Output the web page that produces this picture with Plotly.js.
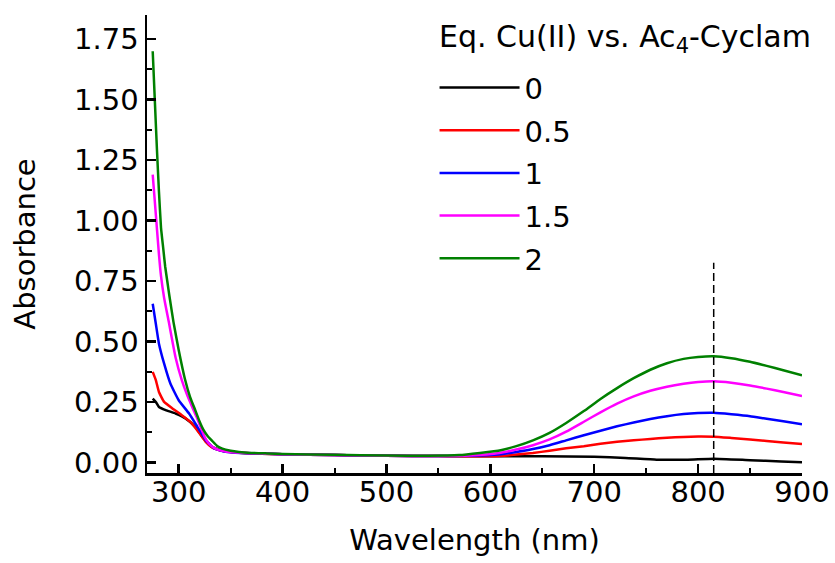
<!DOCTYPE html>
<html>
<head>
<meta charset="utf-8">
<script src="https://cdn.plot.ly/plotly-3.0.1.min.js"></script>
<style>html,body{margin:0;padding:0;background:#fff;}</style>
</head>
<body>
<div id="chart" style="width:835px;height:563px;"></div>
<script>
// Series labels (equivalents of Cu(II) vs. Ac4-Cyclam)
const seriesNames = ["0", "0.5", "1", "1.5", "2"];
const seriesColors = ["#000000", "#ff0000", "#0000ff", "#ff00ff", "#008000"];

// 0 eq
const wl0 = [275,278,281,287.5,297,306.5,316,324,332,342,355,380,400,450,500,550,600,650,700,730,760,790,815,850,880,900];
const ab0 = [0.264,0.250,0.229,0.216,0.202,0.182,0.147,0.099,0.064,0.048,0.041,0.036,0.034,0.030,0.027,0.026,0.025,0.025,0.023,0.018,0.011,0.011,0.015,0.009,0.004,0.000];

// 0.5 eq
const wl05 = [275,278,281,286,294,303,311,319,326,332,342,355,380,400,450,500,550,600,620,641,657,673,690,706,722,738,754,770,786,800,815,832,850,866,882,900];
const ab05 = [0.374,0.340,0.291,0.250,0.223,0.195,0.168,0.126,0.085,0.062,0.048,0.041,0.036,0.034,0.030,0.027,0.026,0.025,0.030,0.039,0.048,0.058,0.067,0.077,0.085,0.091,0.097,0.102,0.105,0.107,0.106,0.101,0.095,0.088,0.082,0.0755];

// 1 eq
const wl1 = [275,278,281,286,292,300,310,318,326,334,345,360,400,450,500,550,580,610,625,641,657,673,690,706,722,738,754,770,786,800,815,832,850,866,882,900];
const ab1 = [0.656,0.573,0.491,0.408,0.326,0.257,0.202,0.147,0.092,0.058,0.044,0.039,0.034,0.030,0.027,0.026,0.027,0.034,0.043,0.055,0.071,0.091,0.112,0.131,0.149,0.165,0.179,0.191,0.200,0.204,0.205,0.199,0.191,0.180,0.170,0.158];

// 1.5 eq
const wl15 = [275,277,279,281,283,286,290.5,297,303,308,313,317,321,325,329,334,339,345,355,370,400,450,500,550,580,610,625,641,657,673,690,706,722,738,754,770,786,800,815,832,850,866,882,900];
const ab15 = [1.19,1.08,0.97,0.86,0.77,0.68,0.58,0.434,0.34,0.28,0.229,0.19,0.147,0.105,0.078,0.060,0.051,0.045,0.041,0.038,0.034,0.030,0.027,0.026,0.028,0.040,0.053,0.071,0.095,0.127,0.168,0.207,0.243,0.273,0.296,0.313,0.325,0.332,0.335,0.329,0.318,0.305,0.291,0.274];

// 2 eq
const wl2 = [275,277,279,281,283,285,287,289,291,295,300,306,311,316,320,324,328,332,337,342,350,358,370,385,400,450,500,540,570,590,610,625,641,657,673,690,706,722,738,754,770,786,800,815,832,850,866,882,900];
const ab2 = [1.70,1.50,1.30,1.12,0.97,0.89,0.81,0.75,0.69,0.58,0.465,0.345,0.27,0.215,0.17,0.133,0.108,0.09,0.068,0.057,0.048,0.043,0.039,0.037,0.035,0.031,0.028,0.027,0.030,0.039,0.050,0.067,0.091,0.122,0.163,0.212,0.262,0.307,0.348,0.383,0.410,0.428,0.436,0.439,0.431,0.416,0.399,0.381,0.360];

// dashed marker line at the band maximum
const markerWl = 815;
const markerTop = 0.825;

// axis ranges / titles
const xRange = [269.5, 900];
const yRange = [-0.044, 1.85];
const legendTitle = "Eq. Cu(II) vs. Ac<sub>4</sub>-Cyclam";
const xTitle = "Wavelength (nm)";
const yTitle = "Absorbance";

const wls = [wl0, wl05, wl1, wl15, wl2];
const abs = [ab0, ab05, ab1, ab15, ab2];

const FONT = "DejaVu Sans, sans-serif";

const traces = seriesNames.map((n, i) => ({
  type: "scatter", mode: "lines",
  x: wls[i], y: abs[i], name: n,
  legendgroup: "g" + i,
  line: {color: seriesColors[i], width: 2.5, shape: "spline", smoothing: 0.4}
}));

traces.push({
  type: "scatter", mode: "lines",
  x: [markerWl, markerWl], y: [yRange[0], markerTop],
  showlegend: false, hoverinfo: "skip",
  line: {color: "#000", width: 1.5, dash: "8px,4px"}
});

const axisCommon = {
  showline: true, linecolor: "#000", linewidth: 2.5,
  ticks: "inside", ticklen: 9, tickwidth: 2.5, tickcolor: "#000",
  showgrid: false, zeroline: false, mirror: false,
  tickfont: {family: FONT, size: 29, color: "#000"}
};

const layout = {
  width: 835, height: 563,
  margin: {l: 147, r: 33, t: 15, b: 90},
  paper_bgcolor: "#fff", plot_bgcolor: "#fff",
  font: {family: FONT, color: "#000"},
  showlegend: true,
  xaxis: Object.assign({}, axisCommon, {
    range: xRange, tick0: 300, dtick: 100,
    ticklabelstandoff: -8,
    minor: {ticks: "inside", ticklen: 5, tickwidth: 2, tickcolor: "#000", dtick: 50, tick0: 300, showgrid: false},
    title: {text: xTitle, font: {family: FONT, size: 29, color: "#000"}, standoff: 22}
  }),
  yaxis: Object.assign({}, axisCommon, {
    range: yRange, tick0: 0, dtick: 0.25, tickformat: ".2f",
    minor: {ticks: "inside", ticklen: 5, tickwidth: 2, tickcolor: "#000", dtick: 0.125, tick0: 0, showgrid: false},
    title: {text: yTitle, font: {family: FONT, size: 29, color: "#000"}, standoff: 30}
  }),
  legend: {
    x: 0.439, y: 0.897, xanchor: "left", yanchor: "top",
    bgcolor: "rgba(0,0,0,0)",
    font: {family: FONT, size: 29, color: "#000"},
    itemwidth: 80, tracegroupgap: 2
  },
  annotations: [{
    text: legendTitle, xref: "paper", yref: "paper",
    x: 0.443, y: 0.948, xanchor: "left", yanchor: "middle",
    showarrow: false, font: {family: FONT, size: 30, color: "#000"}
  }]
};

Plotly.newPlot("chart", traces, layout, {displayModeBar: false, staticPlot: true});
</script>
</body>
</html>
